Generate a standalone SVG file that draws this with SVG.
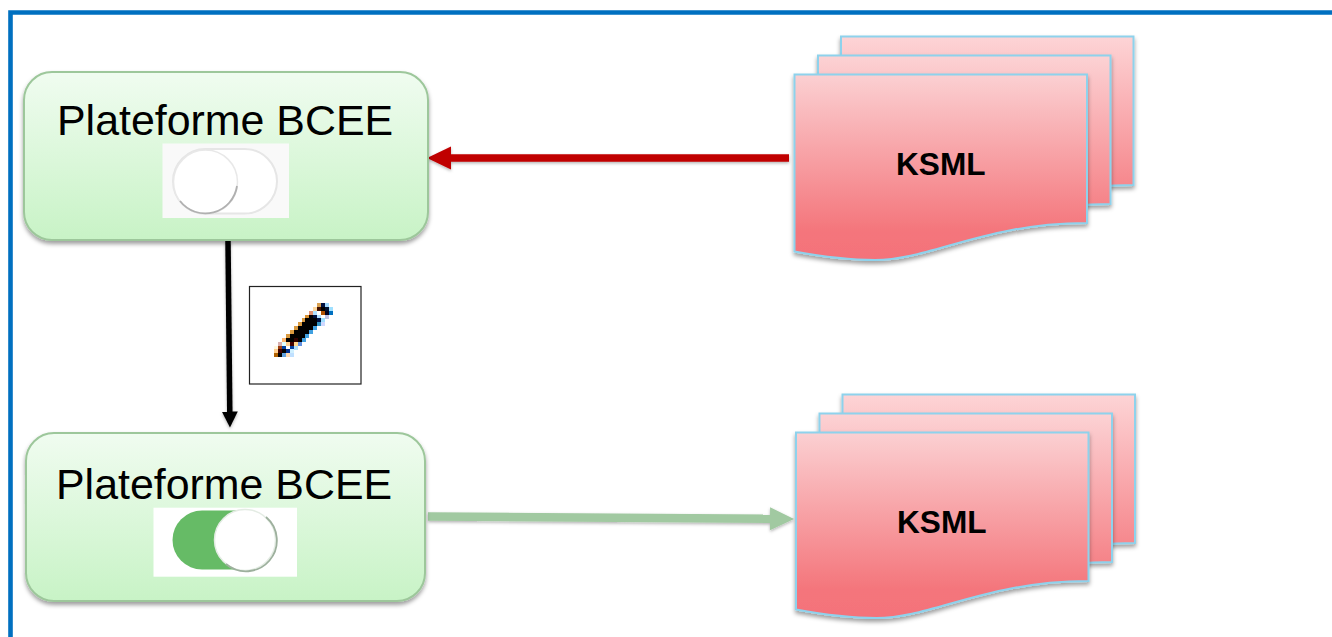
<svg xmlns="http://www.w3.org/2000/svg" xmlns:xlink="http://www.w3.org/1999/xlink" width="1332" height="637" viewBox="0 0 1332 637">
<style>
text{font-family:"Liberation Sans",Arial,sans-serif;fill:#000}
.pf{font-size:42.9px}
.ks{font-size:31.600px;font-weight:700}
.box{fill:url(#gb);stroke:#9dc79b;stroke-width:2;filter:url(#sh)}
.doc{fill:url(#gd);stroke:#8ed2ec;stroke-width:2;filter:url(#sh)}
.doc2{fill:url(#gd2);stroke:#8ed2ec;stroke-width:2;filter:url(#sh)}
.doc3{fill:url(#gd3);stroke:#8ed2ec;stroke-width:2;filter:url(#sh)}
.px rect{width:1.02px;height:1.02px}
</style>
<defs>
<linearGradient id="gb" x1="0" y1="0" x2="0" y2="1"><stop offset="0" stop-color="#f0fcf0"/><stop offset="1" stop-color="#c8f3c6"/></linearGradient>
<linearGradient id="gd" x1="0" y1="0" x2="0" y2="1"><stop offset="0" stop-color="#fbd0d2"/><stop offset="0.85" stop-color="#f4757b"/><stop offset="1" stop-color="#f4727a"/></linearGradient>
<linearGradient id="gd2" x1="0" y1="0" x2="0" y2="1"><stop offset="0" stop-color="#fcd2d4"/><stop offset="0.95" stop-color="#f4757b"/></linearGradient>
<linearGradient id="gd3" x1="0" y1="0" x2="0" y2="1"><stop offset="0" stop-color="#fdd4d6"/><stop offset="1" stop-color="#f4757b"/></linearGradient>
<filter id="sh" x="-5%" y="-5%" width="110%" height="115%"><feDropShadow dx="0" dy="3" stdDeviation="2.2" flood-color="#000" flood-opacity=".38"/></filter>
<filter id="ls" filterUnits="userSpaceOnUse" x="0" y="0" width="1332" height="637"><feDropShadow dx="0" dy="1.500" stdDeviation="1.500" flood-color="#000" flood-opacity=".3"/></filter>
<filter id="soft"><feGaussianBlur stdDeviation=".7"/></filter>
<marker id="mr" markerUnits="userSpaceOnUse" markerWidth="26" markerHeight="26" refX="1" refY="12" orient="auto"><path d="M0 .5L24 12L0 23.500Z" fill="#c00000"/></marker>
<marker id="mg" markerUnits="userSpaceOnUse" markerWidth="26" markerHeight="26" refX="1" refY="12" orient="auto"><path d="M0 .5L24 12L0 23.500Z" fill="#a1c9a1"/></marker>
<marker id="mk" markerUnits="userSpaceOnUse" markerWidth="18" markerHeight="18" refX="1" refY="8" orient="auto"><path d="M0 0L16 8L0 16Z" fill="#000"/></marker>
<path id="d1" d="M794.500 251.500C830 258 850 260 875 260C930 260 985 223 1087 223V74.500H794.500Z"/>
</defs>

<g id="frame"><path d="M1332 12.500H10.500V637" fill="none" stroke="#0070c0" stroke-width="4.600"/></g>

<g id="connectors">
<path d="M789 158H450" fill="none" stroke="#c00000" stroke-width="7.500" marker-end="url(#mr)" filter="url(#ls)"/>
<path d="M228 241L229.800 412.500" fill="none" stroke="#000" stroke-width="5.500" marker-end="url(#mk)" filter="url(#ls)"/>
<path d="M428 516.500L771 518.800" fill="none" stroke="#a1c9a1" stroke-width="8.500" marker-end="url(#mg)" filter="url(#ls)"/>
</g>

<g id="node-platform-off">
<rect class="box" x="24" y="72" width="404" height="168" rx="28"/>
<text class="pf" x="57" y="134.500">Plateforme BCEE</text>
<rect x="162.500" y="143.500" width="126.500" height="74.500" fill="#f9f9f9"/>
<g filter="url(#soft)">
<rect x="173" y="149" width="104" height="64.500" rx="32.250" fill="#fff" stroke="#e6e6e6" stroke-width="2"/>
<circle cx="205.500" cy="182" r="32" fill="#fff" stroke="#e8e8e8" stroke-width="1.500"/>
<path d="M180 201A32 32 0 0 0 237 186" fill="none" stroke="#b0b0b0" stroke-width="1.800"/>
</g>
</g>

<g id="node-platform-on">
<rect class="box" x="26" y="433" width="399" height="168" rx="28"/>
<text class="pf" x="56" y="498.700">Plateforme BCEE</text>
<rect x="153.500" y="507.700" width="143.500" height="69" fill="#fff"/>
<g filter="url(#soft)">
<path d="M202 510.500H245V569.500H202A29.500 29.500 0 0 1 202 510.500Z" fill="#66bb66"/>
<circle cx="245" cy="540" r="30.500" fill="#fff" stroke="#e4ece4" stroke-width="1.500"/>
<path d="M266 517A30.500 30.500 0 0 1 226 564" fill="none" stroke="#9db09d" stroke-width="1.800"/>
</g>
</g>

<g id="node-pencil">
<rect x="249.500" y="286.500" width="111.500" height="97.500" fill="#fff" stroke="#222" stroke-width="1.200"/>
<g class="px" transform="translate(274 303) scale(3.93 3.87)" shape-rendering="crispEdges">
<rect x="11" y="0" fill="#d9a050"/><rect x="12" y="0" fill="#001040"/><rect x="13" y="0" fill="#a0d8ff"/>
<rect x="10" y="1" fill="#ffd8a0"/><rect x="11" y="1" fill="#401000"/><rect x="12" y="1" fill="#000"/><rect x="13" y="1" fill="#001030"/><rect x="14" y="1" fill="#a0e0ff"/>
<rect x="9" y="2" fill="#e09070"/><rect x="10" y="2" fill="#b0e0ff"/><rect x="11" y="2" fill="#fff"/><rect x="12" y="2" fill="#b05000"/><rect x="13" y="2" fill="#000020"/><rect x="14" y="2" fill="#0070c0"/>
<rect x="8" y="3" fill="#d99030"/><rect x="9" y="3" fill="#000"/><rect x="10" y="3" fill="#001040"/><rect x="11" y="3" fill="#b0e0ff"/><rect x="13" y="3" fill="#c0c0e0"/>
<rect x="7" y="4" fill="#d99a40"/><rect x="8" y="4" fill="#000"/><rect x="9" y="4" fill="#000"/><rect x="10" y="4" fill="#000"/><rect x="11" y="4" fill="#001040"/><rect x="12" y="4" fill="#a0e0ff"/>
<rect x="6" y="5" fill="#d99a40"/><rect x="7" y="5" fill="#000"/><rect x="8" y="5" fill="#000"/><rect x="9" y="5" fill="#000"/><rect x="10" y="5" fill="#000"/><rect x="11" y="5" fill="#3090c0"/><rect x="12" y="5" fill="#d0d8ff"/>
<rect x="5" y="6" fill="#d99a40"/><rect x="6" y="6" fill="#000"/><rect x="7" y="6" fill="#000"/><rect x="8" y="6" fill="#000"/><rect x="9" y="6" fill="#000"/><rect x="10" y="6" fill="#40a0e0"/>
<rect x="4" y="7" fill="#d99a40"/><rect x="5" y="7" fill="#000"/><rect x="6" y="7" fill="#000"/><rect x="7" y="7" fill="#000"/><rect x="8" y="7" fill="#000"/><rect x="9" y="7" fill="#40a0e0"/>
<rect x="3" y="8" fill="#d99a40"/><rect x="4" y="8" fill="#000"/><rect x="5" y="8" fill="#000"/><rect x="6" y="8" fill="#000"/><rect x="7" y="8" fill="#000"/><rect x="8" y="8" fill="#40a0e0"/>
<rect x="2" y="9" fill="#ffb870"/><rect x="3" y="9" fill="#000"/><rect x="4" y="9" fill="#000"/><rect x="5" y="9" fill="#300000"/><rect x="6" y="9" fill="#000"/><rect x="7" y="9" fill="#40a0e0"/>
<rect x="1" y="10" fill="#d8b0b0"/><rect x="2" y="10" fill="#e0ffff"/><rect x="3" y="10" fill="#ffd090"/><rect x="4" y="10" fill="#400000"/><rect x="5" y="10" fill="#ffd890"/><rect x="6" y="10" fill="#6090e0"/>
<rect x="0" y="11" fill="#fff8e0"/><rect x="1" y="11" fill="#a04010"/><rect x="2" y="11" fill="#0040a0"/><rect x="3" y="11" fill="#fff"/><rect x="4" y="11" fill="#0040a0"/><rect x="5" y="11" fill="#b0e0ff"/>
<rect x="0" y="12" fill="#ffd090"/><rect x="1" y="12" fill="#400000"/><rect x="2" y="12" fill="#000"/><rect x="3" y="12" fill="#003090"/><rect x="4" y="12" fill="#d0f0ff"/>
<rect x="0" y="13" fill="#b06000"/><rect x="1" y="13" fill="#000"/><rect x="2" y="13" fill="#60a0e0"/><rect x="3" y="13" fill="#ffd8b0"/><rect x="4" y="13" fill="#c0e0ff"/>
</g>
</g>

<g id="node-ksml-top">
<use xlink:href="#d1" href="#d1" class="doc3" transform="translate(46.500 -38)"/>
<use xlink:href="#d1" href="#d1" class="doc2" transform="translate(23.500 -19)"/>
<use xlink:href="#d1" href="#d1" class="doc"/>
<text class="ks" x="896" y="175">KSML</text>
</g>

<g id="node-ksml-bottom">
<use xlink:href="#d1" href="#d1" class="doc3" transform="translate(48 320)"/>
<use xlink:href="#d1" href="#d1" class="doc2" transform="translate(25 339)"/>
<use xlink:href="#d1" href="#d1" class="doc" transform="translate(1.500 358)"/>
<text class="ks" x="897" y="533">KSML</text>
</g>
</svg>
